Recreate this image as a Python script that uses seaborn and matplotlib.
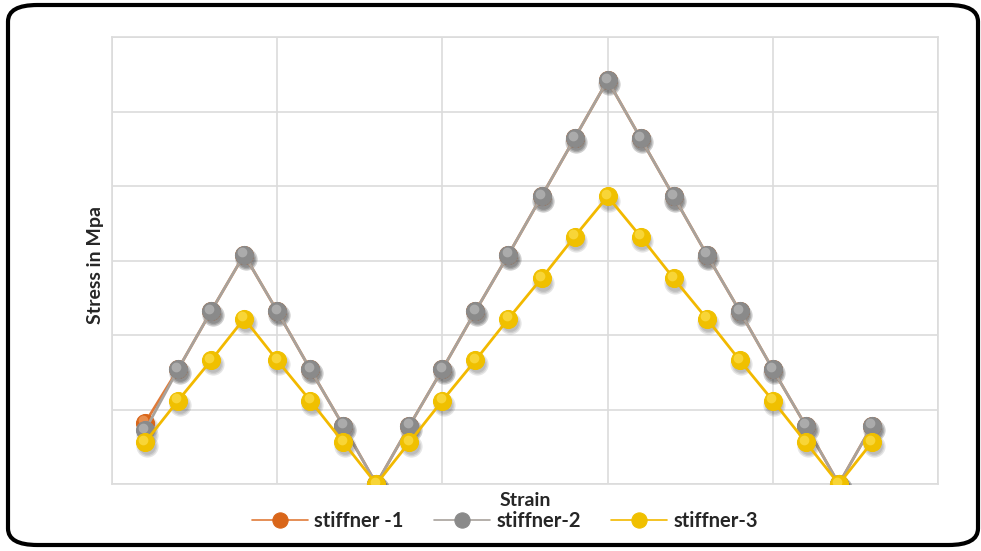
import copy
import numpy as np
import pandas as pd
import seaborn as sns
import matplotlib.pyplot as plt
from matplotlib.patches import FancyBboxPatch
from matplotlib.transforms import ScaledTranslation

# data (arbitrary stress units, one grid step = 50)
strain = list(range(1, 24))
stiffner_1 = [41, 77, 116, 154, 116, 77, 39, 0, 39, 77, 116, 154, 193, 232, 271,
              232, 193, 154, 116, 77, 39, 0, 39]
stiffner_2 = [36, 77, 116, 154, 116, 77, 39, 0, 39, 77, 116, 154, 193, 232, 271,
              232, 193, 154, 116, 77, 39, 0, 39]
stiffner_3 = [28, 56, 83, 111, 83, 56, 28, 0, 28, 56, 83, 111, 138, 166, 193,
              166, 138, 111, 83, 56, 28, 0, 28]

series = ['stiffner -1', 'stiffner-2', 'stiffner-3']
values = [stiffner_1, stiffner_2, stiffner_3]
line_cols = ['#e07b39', '#a8a29c', '#f2b900']
mark_cols = ['#d9661a', '#8a8a8a', '#f0c000']
hi_cols = ['#f6b27a', '#c8c8c8', '#ffe866']

sns.set_style('white')
plt.rcParams['font.family'] = ['Lato', 'DejaVu Sans']

fig = plt.figure(figsize=(9.81, 5.51), dpi=100)
ax = fig.add_axes([112/981, 1-484/551, (938-112)/981, (484-37)/551])

# rounded frame round the whole chart
frame = FancyBboxPatch((8/981, 6/551), 970/981, 540/551,
                       boxstyle='round,pad=0,rounding_size=0.03',
                       transform=fig.transFigure, fill=False,
                       edgecolor='black', linewidth=3, zorder=0)
fig.patches.append(frame)

sh = ScaledTranslation(1.2/72, -3/72, fig.dpi_scale_trans)
hl = ScaledTranslation(-1.2/72, 1.8/72, fig.dpi_scale_trans)

handles = []
for i, (name, vals) in enumerate(zip(series, values)):
    df = pd.DataFrame({'Strain': strain, 'Stress': vals})
    z = 3 + i*3
    # soft shadow under the balls (a few layers to fake a blur)
    for ms in (16, 14, 12):
        ax.plot(strain, vals, linestyle='none', marker='o', markersize=ms,
                markerfacecolor='#333333', markeredgewidth=0, alpha=0.12,
                transform=ax.transData + sh, zorder=z)
    sns.lineplot(data=df, x='Strain', y='Stress', ax=ax, color=line_cols[i],
                 linewidth=2, sort=False, zorder=z + 1)
    ln = ax.lines[-1]
    ln.set_marker('o')
    ln.set_markersize(13)
    ln.set_markerfacecolor(mark_cols[i])
    ln.set_markeredgecolor(mark_cols[i])
    handles.append(ln)
    # highlight to give the balls some shine
    ax.plot(strain, vals, linestyle='none', marker='o', markersize=7,
            markerfacecolor=hi_cols[i], markeredgewidth=0, alpha=0.55,
            transform=ax.transData + hl, zorder=z + 2)

ax.set_xlim(0, 25)
ax.set_ylim(0, 300)
ax.set_xticks(np.arange(0, 26, 5))
ax.set_yticks(np.arange(0, 301, 50))
ax.tick_params(length=0, labelbottom=False, labelleft=False)
ax.grid(True, color='#dcdcdc', linewidth=1.2)
for s in ax.spines.values():
    s.set_color('#dcdcdc')
    s.set_linewidth(1.2)

ax.set_xlabel('')
ax.set_ylabel('')
fig.text(95/981, 1-265/551, 'Stress in Mpa', rotation=90, ha='center', va='center',
         fontsize=14, fontweight='bold')
fig.text(525/981, 1-501/551, 'Strain', ha='center', va='center',
         fontsize=14, fontweight='bold')

leg_handles = []
for h in handles:
    hh = copy.copy(h)
    hh.set_linewidth(1.2)
    hh.set_markersize(11)
    leg_handles.append(hh)
fig.legend(leg_handles, series, loc='center', bbox_to_anchor=(505/981, 1-521/551),
           ncol=3, frameon=False, handlelength=2.8, columnspacing=1.5,
           handletextpad=0.3, borderpad=0, prop={'weight': 'bold', 'size': 14.5})

fig.savefig('out.png', dpi=100)
